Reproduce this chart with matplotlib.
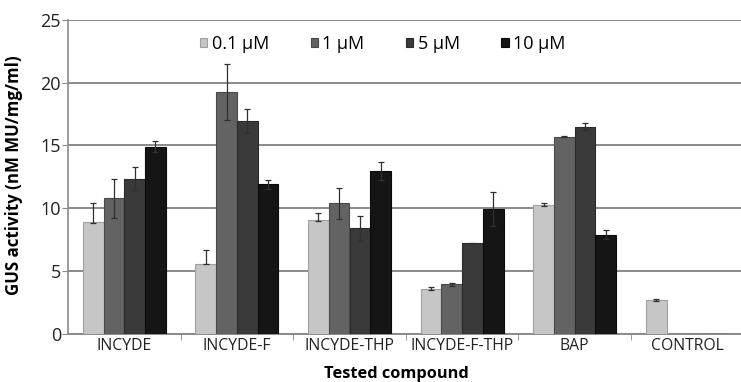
import numpy as np
import matplotlib
matplotlib.use("Agg")
import matplotlib.pyplot as plt
from matplotlib.ticker import FixedLocator, NullFormatter

plt.rcParams['font.family'] = ['Open Sans', 'DejaVu Sans']

# Data
compounds = ['INCYDE', 'INCYDE-F', 'INCYDE-THP', 'INCYDE-F-THP', 'BAP', 'CONTROL']
doses = ['0.1 µM', '1 µM', '5 µM', '10 µM']

val_01 = [8.9, 5.6, 9.1, 3.55, 10.3, 2.7]
val_1 = [10.8, 19.25, 10.4, 3.95, 15.7, 0]
val_5 = [12.35, 16.97, 8.4, 7.2, 16.5, 0]
val_10 = [14.9, 11.9, 12.95, 9.95, 7.9, 0]

# lower / upper error bar lengths
err_01_lo = [0.1, 0.07, 0.1, 0.06, 0.15, 0.05]
err_01_hi = [1.5, 1.05, 0.55, 0.2, 0.15, 0.05]
err_1 = [1.55, 2.2, 1.25, 0.1, 0.05, 0]
err_5 = [0.9, 0.95, 0.97, 0.05, 0.25, 0]
err_10 = [0.45, 0.35, 0.7, 1.35, 0.35, 0]

colors = ['#c6c6c6', '#636363', '#3a3a3a', '#151515']
edges = ['#a0a0a0', '#4a4a4a', '#2a2a2a', '#0a0a0a']

fig = plt.figure(figsize=(7.41, 3.82), dpi=100)
ax = fig.add_axes([68 / 741, 1 - 334 / 382, 675.6 / 741, (334 - 19.75) / 382])

x = np.arange(len(compounds))
w = 0.184
series = [val_01, val_1, val_5, val_10]
errs = [[err_01_lo, err_01_hi], err_1, err_5, err_10]
for i, (vals, e) in enumerate(zip(series, errs)):
    pos = x + (i - 1.5) * w
    ax.bar(pos, vals, width=w, color=colors[i], edgecolor=edges[i], linewidth=0.8,
           label=doses[i], zorder=3)
    keep = [j for j in range(len(vals)) if vals[j] > 0]
    if i == 0:
        ye = [[e[0][j] for j in keep], [e[1][j] for j in keep]]
    else:
        ye = [e[j] for j in keep]
    ax.errorbar(pos[keep], [vals[j] for j in keep], yerr=ye, fmt='none',
                ecolor='#303030', elinewidth=0.9, capsize=2.5, capthick=0.9, zorder=4)

ax.set_xlim(-0.5, len(compounds) - 0.5)
ax.set_ylim(0, 25)
ax.set_yticks([0, 5, 10, 15, 20, 25])
ax.yaxis.grid(True, color='#8a8a8a', linewidth=1.4, zorder=0)
ax.set_axisbelow(True)

ax.set_xticks(x)
ax.set_xticklabels(compounds, fontsize=11.3, color='#222222')
ax.tick_params(axis='x', which='major', length=0, pad=3)
ax.xaxis.set_minor_locator(FixedLocator(np.arange(0.5, len(compounds) - 0.5, 1)))
ax.xaxis.set_minor_formatter(NullFormatter())
ax.tick_params(axis='x', which='minor', length=4, color='#8a8a8a', direction='out')
ax.tick_params(axis='y', length=4, color='#8a8a8a', labelsize=13, labelcolor='#222222', pad=1)

for s in ['top', 'right']:
    ax.spines[s].set_visible(False)
ax.spines['left'].set_color('#8a8a8a')
ax.spines['bottom'].set_color('#8a8a8a')
ax.spines['left'].set_linewidth(1.2)
ax.spines['bottom'].set_linewidth(1.4)

fig.text(14 / 741, 1 - 175 / 382, 'GUS activity (nM MU/mg/ml)', fontsize=12.2,
         fontweight='bold', rotation=90, ha='center', va='center')
fig.text(396 / 741, 1 - 378 / 382, 'Tested compound', fontsize=11.8, fontweight='bold',
         ha='center', va='baseline')

leg = ax.legend(ncol=4, loc='center left',
                bbox_to_anchor=((200 - 68) / 675.6, (334 - 44) / (334 - 19.75)),
                frameon=False, fontsize=13, handlelength=0.4, handleheight=0.4,
                handletextpad=0.25, columnspacing=2.3, borderaxespad=0, borderpad=0)

plt.savefig('out.png', dpi=100)
